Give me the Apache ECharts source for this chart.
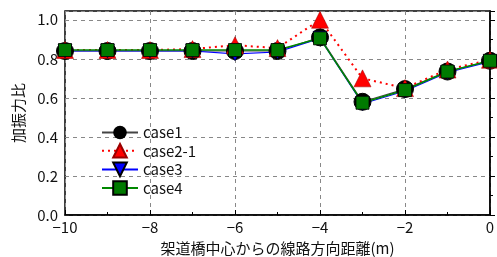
<!DOCTYPE html>
<html><head><meta charset="utf-8">
<script src="https://cdn.jsdelivr.net/npm/echarts@6/dist/echarts.min.js"></script>
<style>html,body{margin:0;padding:0;background:#fff}#c{width:497px;height:257px}</style>
</head><body><div id="c"></div>
<script>
const xs = [-10,-9,-8,-7,-6,-5,-4,-3,-2,-1,0];
const case1 = [0.84,0.84,0.84,0.84,0.84,0.84,0.91,0.58,0.645,0.735,0.79];
const case2_1 = [0.845,0.845,0.845,0.85,0.87,0.855,1.0,0.70,0.65,0.745,0.795];
const case3 = [0.84,0.84,0.84,0.84,0.825,0.835,0.905,0.57,0.635,0.73,0.785];
const case4 = [0.845,0.845,0.845,0.845,0.845,0.845,0.905,0.575,0.64,0.735,0.79];
const yTicks = [0,0.2,0.4,0.6,0.8,1.0];
const font = '"Noto Sans CJK JP", sans-serif';
const pts = a => xs.map((x,i)=>[x,a[i]]);
const chart = echarts.init(document.getElementById('c'));
chart.setOption({
  animation:false,
  grid:{left:65,right:7,top:11,bottom:42,outerBoundsMode:'none',containLabel:false,show:true,borderColor:'#000',borderWidth:1.5,backgroundColor:'transparent'},
  xAxis:{type:'value',min:-10,max:0,interval:2,
    name:'架道橋中心からの線路方向距離(m)',nameLocation:'middle',nameGap:26,
    nameTextStyle:{fontFamily:font,fontSize:15,color:'#111'},
    axisLine:{lineStyle:{color:'#000',width:1.5}},
    axisTick:{inside:true,length:5,lineStyle:{color:'#000'}},
    minorTick:{show:true,splitNumber:2,length:3,lineStyle:{color:'#000'}},
    splitLine:{show:true,lineStyle:{color:'#888',type:[4,4],width:1}},
    axisLabel:{fontFamily:font,fontSize:15,color:'#111',margin:5,
      formatter:v=>(v<0?'\u2212'+Math.abs(v):String(v))}},
  yAxis:{type:'value',min:0,max:1.045,interval:0.2,
    name:'加振力比',nameLocation:'middle',nameGap:37,
    nameTextStyle:{fontFamily:font,fontSize:15,color:'#111'},
    axisLine:{lineStyle:{color:'#000',width:1.5}},
    axisTick:{inside:true,length:5,lineStyle:{color:'#000'}},
    minorTick:{show:true,splitNumber:2,length:3,lineStyle:{color:'#000'}},
    splitLine:{show:true,lineStyle:{color:'#888',type:[4,4],width:1}},
    axisLabel:{fontFamily:font,fontSize:15,color:'#111',margin:7,
      formatter:v=>{const t=yTicks.find(k=>Math.abs(k-v)<1e-6);return t===undefined?'':t.toFixed(1);}}},
  legend:{orient:'vertical',left:96,top:120,itemGap:3,itemWidth:36,itemHeight:17,
    textStyle:{fontFamily:font,fontSize:15,color:'#111'},
    data:['case1','case2-1','case3','case4']},
  series:[
    {name:'case1',type:'line',data:pts(case1),symbol:'circle',symbolSize:17,
      lineStyle:{color:'#444',width:1.2},itemStyle:{color:'#000',borderColor:'#000'}},
    {name:'case2-1',type:'line',data:pts(case2_1),symbol:'triangle',symbolSize:17,
      lineStyle:{color:'#f00',width:2,type:[2,4]},itemStyle:{color:'#f00',borderColor:'#900',borderWidth:0.5}},
    {name:'case3',type:'line',data:pts(case3),symbol:'triangle',symbolRotate:180,symbolSize:14,
      lineStyle:{color:'#00f',width:1.2},itemStyle:{color:'#00f',borderColor:'#000',borderWidth:0.5}},
    {name:'case4',type:'line',data:pts(case4),symbol:'rect',symbolSize:13,
      lineStyle:{color:'#080',width:1.5},itemStyle:{color:'#007a00',borderColor:'#000',borderWidth:0.8}}
  ]
});
</script></body></html>
